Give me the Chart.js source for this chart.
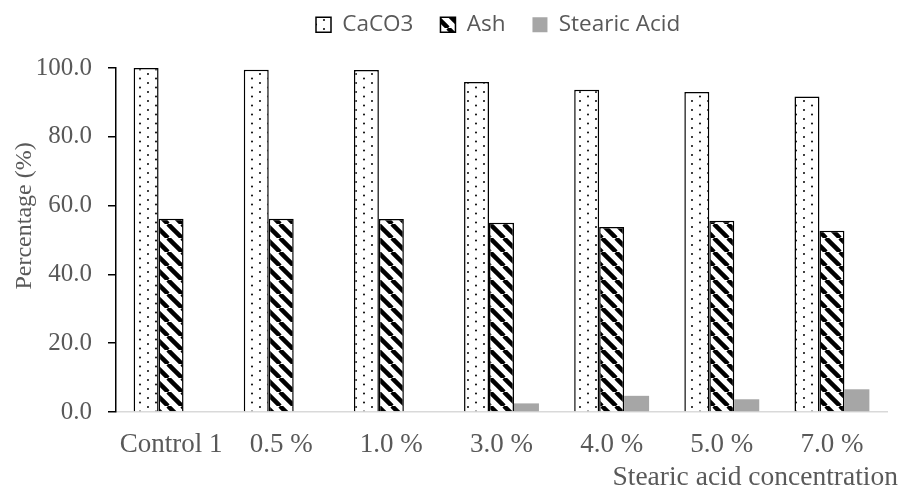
<!DOCTYPE html>
<html>
<head>
<meta charset="utf-8">
<script src="https://cdn.jsdelivr.net/npm/chart.js@4/dist/chart.umd.min.js"></script>
<style>
  html, body { margin: 0; padding: 0; background: #fff; }
  #wrap { width: 904px; height: 491px; }
</style>
</head>
<body>
<div id="wrap"><canvas id="c" width="904" height="491"></canvas></div>
<script>
// Stearic acid treatment series
const categories = ['Control 1', '0.5 %', '1.0 %', '3.0 %', '4.0 %', '5.0 %', '7.0 %'];
const caco3Values = [100.0, 99.5, 99.4, 95.9, 93.7, 93.0, 91.7];
const ashValues = [56.2, 56.2, 56.1, 55.0, 53.8, 55.6, 52.7];
const stearicValues = [0, 0, 0, 2.5, 4.7, 3.7, 6.6];
const seriesNames = ['CaCO3', 'Ash', 'Stearic Acid'];
const yTickValues = [0, 20, 40, 60, 80, 100];
const xAxisTitle = 'Stearic acid concentration';
const yAxisTitle = 'Percentage (%)';

const TEXT_GREY = '#595959';
const SERIF = '"Liberation Serif", "Times New Roman", serif';
const SANS = '"Open Sans", "Noto Sans", sans-serif';

// Fill patterns: fine staggered dots and wide downward diagonal stripes
function dotPattern() {
  const c = document.createElement('canvas');
  c.width = 16; c.height = 9;
  const g = c.getContext('2d');
  g.fillStyle = '#fff'; g.fillRect(0, 0, 16, 9);
  g.fillStyle = '#111';
  g.beginPath(); g.arc(4, 2, 1.05, 0, Math.PI * 2); g.fill();
  g.beginPath(); g.arc(12, 6.5, 1.05, 0, Math.PI * 2); g.fill();
  return g.createPattern(c, 'repeat');
}
function stripePattern() {
  const s = 14;
  const c = document.createElement('canvas');
  c.width = s; c.height = s;
  const g = c.getContext('2d');
  g.fillStyle = '#fff'; g.fillRect(0, 0, s, s);
  g.strokeStyle = '#000'; g.lineWidth = 4.5;
  for (const o of [-s, 0, s]) {
    g.beginPath(); g.moveTo(o, 0); g.lineTo(o + s, s); g.stroke();
  }
  return g.createPattern(c, 'repeat');
}

const ctx = document.getElementById('c').getContext('2d');
const dots = dotPattern();
const stripes = stripePattern();

const LEGEND_H = 68;      // space reserved above the plot
const LEGEND_X = 316;     // first legend swatch
const LEGEND_MID = 27;    // legend text centre line

const layoutTweaks = {
  id: 'layoutTweaks',
  afterInit(chart) {
    const lg = chart.legend;
    const fit = lg.fit;
    lg.fit = function () { fit.call(this); if (this.isHorizontal()) this.height = LEGEND_H; };
  },
  afterLayout(chart) {
    const lg = chart.legend;
    const p = lg.options.labels.padding;
    const fs = lg.options.labels.font.size;
    const ih = Math.max(fs * 1.2, lg.options.labels.boxHeight);
    lg.left = LEGEND_X - p;
    lg.right = chart.width;
    lg.width = lg.right - lg.left;
    lg.top = LEGEND_MID - ih / 2 - p;
  }
};

const axisTitles = {
  id: 'axisTitles',
  afterDraw(chart) {
    const { ctx: g, chartArea: a } = chart;
    g.save();
    g.fillStyle = TEXT_GREY;
    g.textBaseline = 'middle';
    g.textAlign = 'right';
    g.font = '27.5px ' + SERIF;
    g.fillText(xAxisTitle, a.right + 11, a.bottom + 66);
    g.font = '24px ' + SERIF;
    g.translate(25, a.top + (a.bottom - a.top) * 0.43);
    g.rotate(-Math.PI / 2);
    g.textAlign = 'center';
    g.fillText(yAxisTitle, 0, 0);
    g.restore();
  }
};

new Chart(ctx, {
  type: 'bar',
  data: {
    labels: categories,
    datasets: [
      { label: seriesNames[0], data: caco3Values, backgroundColor: dots, borderColor: '#000', borderWidth: 1.5 },
      { label: seriesNames[1], data: ashValues, backgroundColor: stripes, borderColor: '#000', borderWidth: 1.5 },
      { label: seriesNames[2], data: stearicValues, backgroundColor: '#a6a6a6', borderWidth: 0 }
    ]
  },
  options: {
    responsive: false,
    animation: false,
    devicePixelRatio: 1,
    layout: { padding: { left: 0, right: 17, top: 0, bottom: 0 } },
    datasets: { bar: { categoryPercentage: 0.68, barPercentage: 1.0 } },
    plugins: {
      legend: {
        position: 'top',
        align: 'start',
        labels: {
          font: { family: SANS, size: 22.5 },
          color: TEXT_GREY,
          boxWidth: 15,
          boxHeight: 15,
          padding: 27
        }
      },
      tooltip: { enabled: false }
    },
    scales: {
      x: {
        grid: { display: false, drawTicks: false },
        border: { color: '#d9d9d9', width: 1.5 },
        ticks: { font: { family: SERIF, size: 27 }, color: TEXT_GREY, padding: 17 },
        afterFit(s) { s.height = 79; }
      },
      y: {
        min: yTickValues[0],
        max: yTickValues[yTickValues.length - 1],
        ticks: {
          stepSize: yTickValues[1] - yTickValues[0],
          callback: v => Number(v).toFixed(1),
          font: { family: SERIF, size: 25 },
          color: TEXT_GREY,
          padding: 16
        },
        grid: { drawOnChartArea: false, color: '#000', lineWidth: 1.5, tickLength: 8 },
        border: { color: '#000', width: 1.5 },
        afterFit(s) { s.width = 116; }
      }
    }
  },
  plugins: [layoutTweaks, axisTitles]
});
</script>
</body>
</html>
